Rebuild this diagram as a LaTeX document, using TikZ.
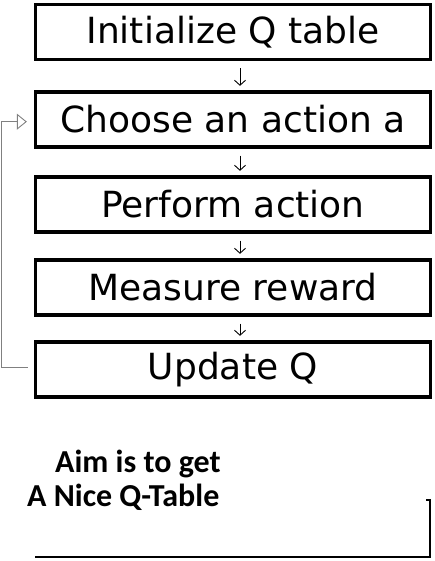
\documentclass[tikz,border=0pt]{standalone}
\usepackage{fontspec}
\usetikzlibrary{arrows.meta}
\newfontfamily\boxfont{DejaVu Sans}
\newfontfamily\notefont{Carlito}

\begin{document}
\begin{tikzpicture}[x=1pt,y=-1pt,stage/.style={shape=rectangle,draw=black,line width=3.3pt,minimum width=395pt,minimum height=55pt,inner sep=0pt,font=\boxfont\fontsize{36}{40}\selectfont},flow/.style={-{Straight Barb[length=5pt,width=11pt]},line width=0.9pt,shorten <=7pt,shorten >=4.5pt},back/.style={-{Triangle[open,length=10pt,width=16pt]},gray,line width=0.9pt},note/.style={anchor=base west,inner sep=0pt,font=\notefont\bfseries\fontsize{32}{34}\selectfont}]
\def\cx{233};
\def\dx{7};

\useasboundingbox (0,0) rectangle (434,561);

\node[stage] (init) at (\cx,32) {Initialize Q table};
\node[stage] (choose) at (\cx,119.5) {Choose an action a};
\node[stage] (perform) at (\cx,204.5) {Perform action};
\node[stage] (measure) at (\cx,287.5) {Measure reward};
\node[stage] (update) at (\cx,369.5) {Update Q};

\draw[flow] ([xshift=\dx]init.south) -- ([xshift=\dx]choose.north);
\draw[flow] ([xshift=\dx]choose.south) -- ([xshift=\dx]perform.north);
\draw[flow] ([xshift=\dx]perform.south) -- ([xshift=\dx]measure.north);
\draw[flow] ([xshift=\dx]measure.south) -- ([xshift=\dx]update.north);

% loop back to the action choice
\coordinate (from) at ([yshift=2.5]update.west);
\coordinate (to) at ([yshift=-2.2]choose.west);
\coordinate (bend) at (1.5,0);
\draw[back,shorten <=6pt,shorten >=7pt] (from) -- (bend |- from) |- (to);

\node[note] (aim) at (55,472) {Aim is to get};
\node[note] (goal) at (27,506) {A Nice Q-Table};

\draw[line width=2pt] (35,557) -- (430,557) -- (430,500) -- (426,500);
\end{tikzpicture}
\end{document}
